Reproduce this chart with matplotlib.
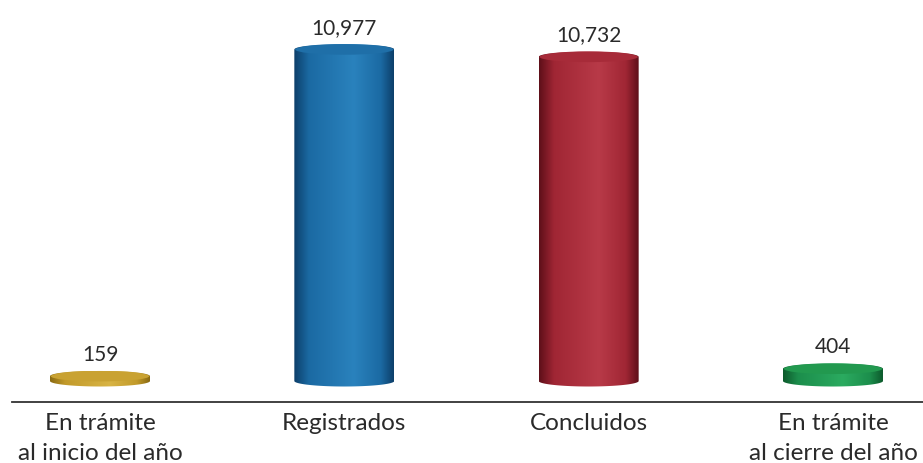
import numpy as np
import matplotlib
matplotlib.use("Agg")
import matplotlib.pyplot as plt
from matplotlib.path import Path
from matplotlib.patches import PathPatch, Ellipse
from matplotlib.colors import LinearSegmentedColormap
from matplotlib.lines import Line2D

categories = ["En trámite\nal inicio del año", "Registrados", "Concluidos", "En trámite\nal cierre del año"]
values = [159, 10977, 10732, 404]
value_labels = ["159", "10,977", "10,732", "404"]
# (edge dark, mid, highlight, top)
palettes = [
    ("#8a6a12", "#c29a2a", "#d8b445", "#c9a232"),
    ("#0d3f6a", "#1b6aa3", "#2a82bd", "#1f6fa8"),
    ("#5e0f19", "#a02634", "#b83a48", "#a72b39"),
    ("#0d5a2c", "#1c8e4c", "#2bab60", "#22994f"),
]

plt.rcParams['font.family'] = ['Lato', 'DejaVu Sans']

W, H = 923, 464
fig = plt.figure(figsize=(W / 100, H / 100), dpi=100)
ax = fig.add_axes([0, 0, 1, 1])
ax.set_axis_off()

spacing_px = 244.33
x0_px = 100
ell_px = 5.5
zero_px_from_top = 382
px_per_unit = (zero_px_from_top - 45 - ell_px) / 10977
ylo = -(H - zero_px_from_top) / px_per_unit
yhi = zero_px_from_top / px_per_unit

half_w = 50 / spacing_px
ell_h = ell_px / px_per_unit  # half-height of ellipse in data units

xs = np.arange(len(values))
prof = np.linspace(0, 1, 256)

for x, v, pal, lab in zip(xs, values, palettes, value_labels):
    dark, mid, hi, top = pal
    cmap = LinearSegmentedColormap.from_list(
        "c", [(0, dark), (0.15, mid), (0.6, hi), (0.87, mid), (1, dark)])
    t = np.linspace(np.pi, 2 * np.pi, 60)
    bx = x + half_w * np.cos(t)
    by = ell_h * np.sin(t)
    t2 = np.linspace(0, np.pi, 60)
    tx = x + half_w * np.cos(t2)
    ty = v + ell_h * np.sin(t2)
    verts = [(x - half_w, v)] + list(zip(bx, by)) + [(x + half_w, v)] + list(zip(tx, ty))
    verts.append(verts[0])
    codes = [Path.MOVETO] + [Path.LINETO] * (len(verts) - 2) + [Path.CLOSEPOLY]
    path = Path(verts, codes)
    patch = PathPatch(path, facecolor='none', edgecolor='none')
    ax.add_patch(patch)
    im = ax.imshow(prof[None, :], cmap=cmap, aspect='auto',
                   extent=[x - half_w, x + half_w, -ell_h, v + ell_h],
                   interpolation='bicubic', zorder=2)
    im.set_clip_path(patch)
    # top cap
    cap = Ellipse((x, v), 2 * half_w * 0.985, 2 * ell_h * 0.95,
                  facecolor=top, edgecolor='none', zorder=3)
    ax.add_patch(cap)
    ax.annotate(lab, (x, v + ell_h), xytext=(0, 8), textcoords='offset points',
                ha='center', va='baseline', fontsize=15,
                color='#2a2a2a', zorder=4)

ax.set_xlim(-x0_px / spacing_px, (W - x0_px) / spacing_px)
ax.set_ylim(ylo, yhi)

# baseline
fig.add_artist(Line2D([12 / W, 1], [1 - 403 / H, 1 - 403 / H],
                      transform=fig.transFigure, color='#333333', lw=1.3))

for x, c in zip(xs, categories):
    xf = (x0_px + x * spacing_px) / W
    for i, line in enumerate(c.split("\n")):
        fig.text(xf, 1 - (430 + 30 * i) / H, line, ha='center', va='baseline',
                 fontsize=17.5, color='#2a2a2a')

fig.savefig("out.png", dpi=100)
